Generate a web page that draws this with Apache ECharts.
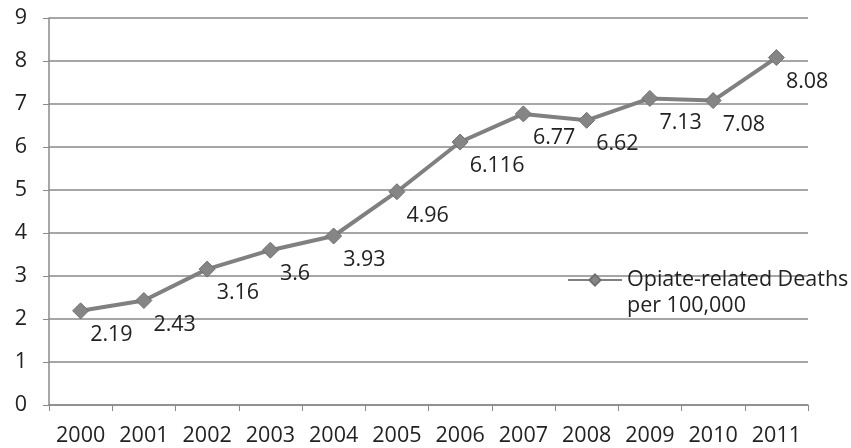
<!DOCTYPE html>
<html><head><meta charset="utf-8">
<script src="https://cdn.jsdelivr.net/npm/echarts@6/dist/echarts.min.js"></script>
<style>html,body{margin:0;padding:0;background:#fff}#c{width:851px;height:448px}</style>
</head><body><div id="c"></div>
<script>
const categories = ['2000','2001','2002','2003','2004','2005','2006','2007','2008','2009','2010','2011'];
const deaths = [2.19, 2.43, 3.16, 3.6, 3.93, 4.96, 6.116, 6.77, 6.62, 7.13, 7.08, 8.08];
const seriesName = 'Opiate-related Deaths\nper 100,000';
const FONT = 'Open Sans';
const chart = echarts.init(document.getElementById('c'), null, {renderer: 'canvas'});
chart.setOption({
  animation: false,
  backgroundColor: '#fff',
  grid: {left: 49, right: 43, top: 18, bottom: 43, containLabel: false},
  legend: {
    show: true, left: 562, top: 236, orient: 'vertical',
    itemWidth: 54, itemHeight: 14,
    itemGap: 4,
    formatter: function (name) { return ' \n' + name; },
    textStyle: {fontFamily: FONT, fontSize: 21.5, color: '#222', lineHeight: 26},
    data: [seriesName]
  },
  xAxis: {
    type: 'category', data: categories, boundaryGap: true,
    axisLine: {lineStyle: {color: '#8a8a8a', width: 1.5}},
    axisTick: {show: true, length: 6, lineStyle: {color: '#8a8a8a'}},
    axisLabel: {interval: 0, hideOverlap: false, fontFamily: FONT, fontSize: 21.5, color: '#222', margin: 20}
  },
  yAxis: {
    type: 'value', min: 0, max: 9, interval: 1,
    axisLine: {show: true, lineStyle: {color: '#8a8a8a', width: 1.5}},
    axisTick: {show: true, length: 6, lineStyle: {color: '#8a8a8a'}},
    axisLabel: {fontFamily: FONT, fontSize: 21.5, color: '#222', margin: 22},
    splitLine: {lineStyle: {color: '#888', width: 1.5}}
  },
  series: [{
    name: seriesName, type: 'line', data: deaths,
    symbol: 'diamond', symbolSize: 16,
    lineStyle: {color: '#808080', width: 4},
    itemStyle: {color: '#858585', borderColor: '#707070', borderWidth: 1},
    label: {
      show: true, position: 'right', distance: 1, offset: [0, 24],
      fontFamily: FONT, fontSize: 21.5, color: '#222'
    }
  }]
});
</script></body></html>
